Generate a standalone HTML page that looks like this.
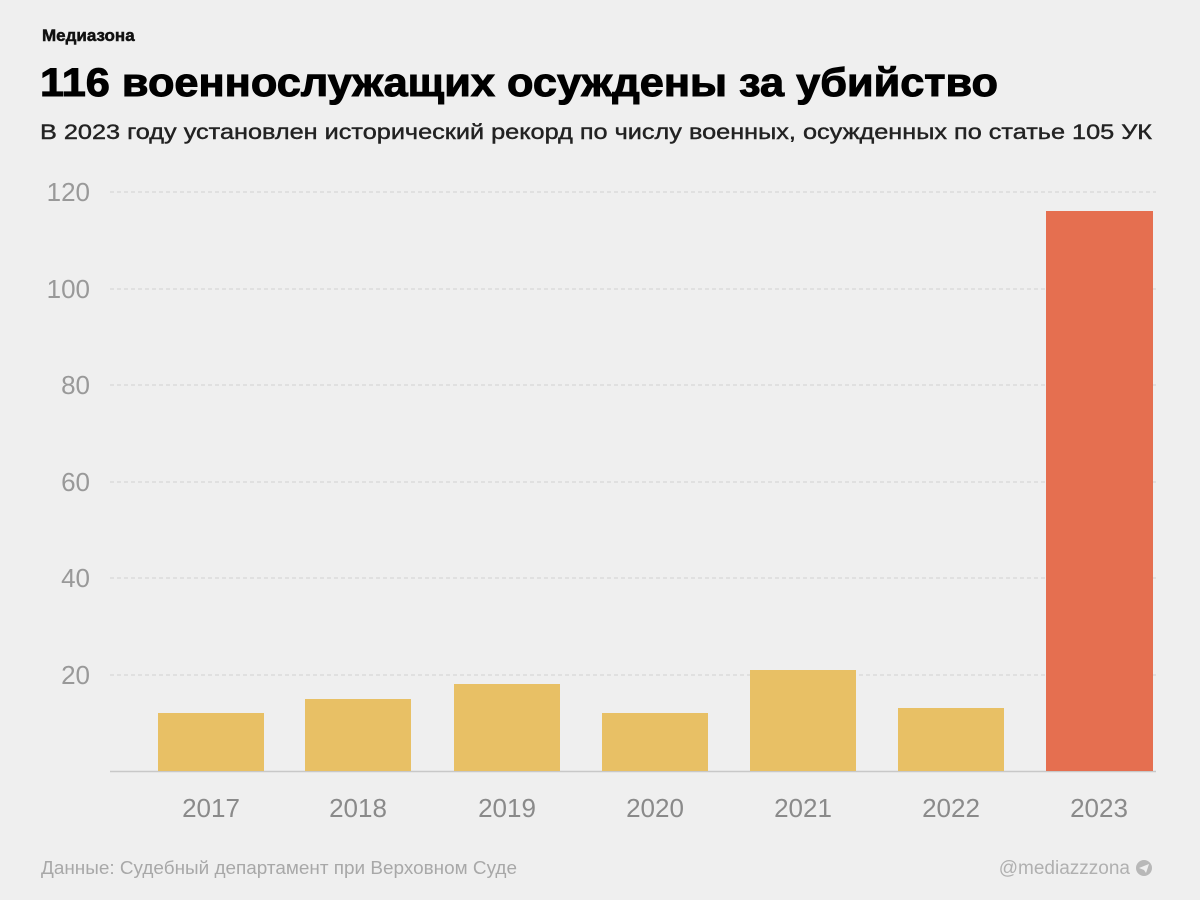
<!DOCTYPE html>
<html><head><meta charset="utf-8"><style>
body{margin:0;background:#efefef;}
svg{display:block}
</style></head><body>
<svg width="1200" height="900" viewBox="0 0 1200 900" xmlns="http://www.w3.org/2000/svg" font-family="Liberation Sans, DejaVu Sans, sans-serif">
<rect width="1200" height="900" fill="#efefef"/>
<text x="42" y="41" font-size="17" font-weight="bold" fill="#111" stroke="#111" stroke-width="0.5">Медиазона</text>
<text x="40" y="96" font-size="40" font-weight="bold" fill="#000" stroke="#000" stroke-width="1" textLength="958" lengthAdjust="spacingAndGlyphs">116 военнослужащих осуждены за убийство</text>
<text x="40" y="139" font-size="21" fill="#222" stroke="#222" stroke-width="0.4" textLength="1112" lengthAdjust="spacingAndGlyphs">В 2023 году установлен исторический рекорд по числу военных, осужденных по статье 105 УК</text>
<g stroke="#d0d0d0" stroke-dasharray="4,3" stroke-width="1">
<line x1="110" y1="192" x2="1156" y2="192"/>
<line x1="110" y1="289" x2="1156" y2="289"/>
<line x1="110" y1="385" x2="1156" y2="385"/>
<line x1="110" y1="482" x2="1156" y2="482"/>
<line x1="110" y1="578" x2="1156" y2="578"/>
<line x1="110" y1="675" x2="1156" y2="675"/>
</g>
<line x1="110" y1="771.5" x2="1156" y2="771.5" stroke="#c8c8c8" stroke-width="1.5"/>
<g font-size="26" fill="#999" text-anchor="end">
<text x="90" y="201">120</text>
<text x="90" y="298">100</text>
<text x="90" y="394">80</text>
<text x="90" y="491">60</text>
<text x="90" y="587">40</text>
<text x="90" y="684">20</text>
</g>
<g fill="#e8c065">
<rect x="158" y="713" width="106" height="58"/>
<rect x="305" y="699" width="106" height="72"/>
<rect x="454" y="684" width="106" height="87"/>
<rect x="602" y="713" width="106" height="58"/>
<rect x="750" y="670" width="106" height="101"/>
<rect x="898" y="708" width="106" height="63"/>
</g>
<rect x="1046" y="211" width="107" height="560" fill="#e56f50"/>
<g font-size="26" fill="#8a8a8a" text-anchor="middle">
<text x="211" y="817">2017</text>
<text x="358" y="817">2018</text>
<text x="507" y="817">2019</text>
<text x="655" y="817">2020</text>
<text x="803" y="817">2021</text>
<text x="951" y="817">2022</text>
<text x="1099" y="817">2023</text>
</g>
<text x="41" y="874" font-size="18" fill="#a8a8a8" textLength="476" lengthAdjust="spacingAndGlyphs">Данные: Судебный департамент при Верховном Суде</text>
<text x="1130" y="874" font-size="19" fill="#b0b0b0" text-anchor="end">@mediazzzona</text>
<circle cx="1144" cy="868" r="8" fill="#b8b8b8"/>
<path d="M1139 868 L1149 864 L1146 873 L1144 870 Z" fill="#efefef"/>
</svg>
</body></html>
